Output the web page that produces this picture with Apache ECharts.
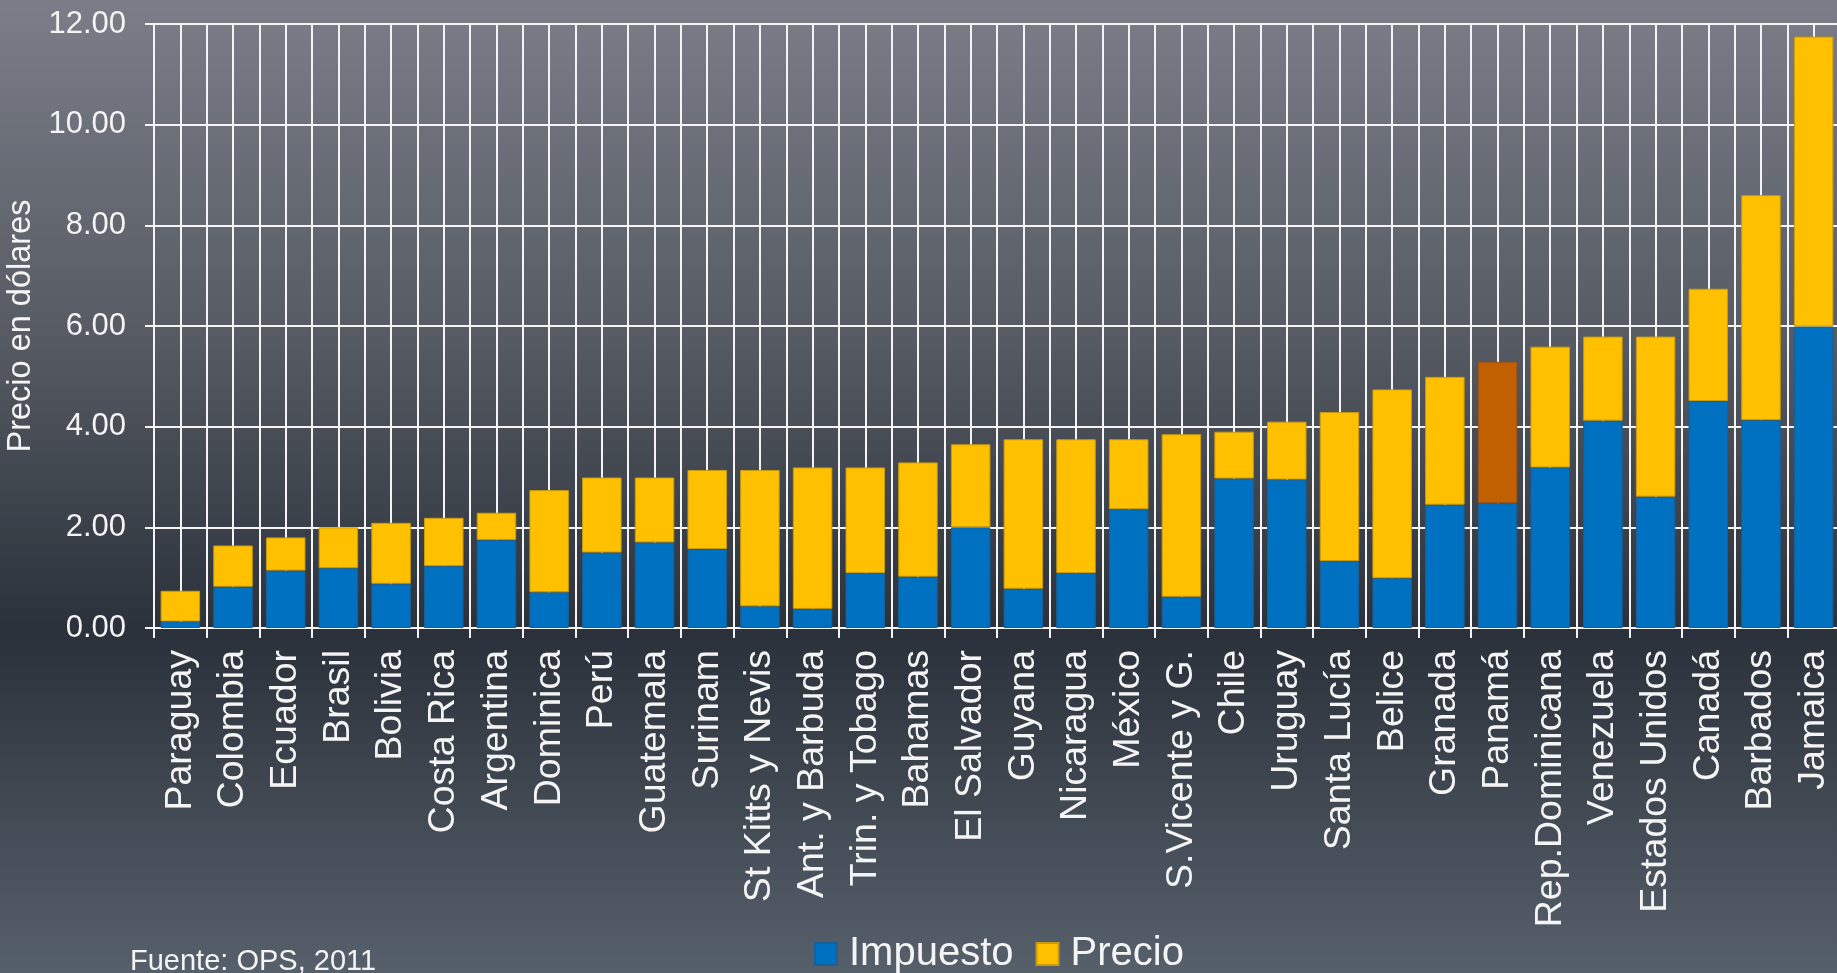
<!DOCTYPE html>
<html>
<head>
<meta charset="utf-8">
<script src="https://cdn.jsdelivr.net/npm/echarts@6/dist/echarts.min.js"></script>
<style>
  html, body { margin: 0; padding: 0; }
  #chart { width: 1837px; height: 973px; }
</style>
</head>
<body>
<div id="chart"></div>
<script>
// países (orden del gráfico)
const paises = ['Paraguay', 'Colombia', 'Ecuador', 'Brasil', 'Bolivia', 'Costa Rica', 'Argentina',
  'Dominica', 'Perú', 'Guatemala', 'Surinam', 'St Kitts y Nevis', 'Ant. y Barbuda', 'Trin. y Tobago',
  'Bahamas', 'El Salvador', 'Guyana', 'Nicaragua', 'México', 'S.Vicente y G.', 'Chile', 'Uruguay',
  'Santa Lucía', 'Belice', 'Granada', 'Panamá', 'Rep.Dominicana', 'Venezuela', 'Estados Unidos',
  'Canadá', 'Barbados', 'Jamaica']
// parte azul
const impuesto = [0.13, 0.82, 1.14, 1.19, 0.88, 1.23, 1.75, 0.71, 1.50, 1.70, 1.57, 0.43, 0.38, 1.09,
  1.02, 2.00, 0.78, 1.09, 2.36, 0.62, 2.97, 2.95, 1.33, 0.99, 2.45, 2.48, 3.19, 4.12, 2.61, 4.51, 4.13, 5.99]
// parte amarilla (encima del impuesto)
const precio = [0.61, 0.82, 0.66, 0.81, 1.21, 0.96, 0.54, 2.03, 1.49, 1.29, 1.57, 2.71, 2.81, 2.10,
  2.27, 1.65, 2.97, 2.66, 1.39, 3.23, 0.93, 1.15, 2.96, 3.75, 2.54, 2.81, 2.40, 1.67, 3.18, 2.23, 4.47, 5.76]
const yTicks = [0, 2, 4, 6, 8, 10, 12]
const destacado = 'Panamá'

const font = 'Liberation Sans, Arial, sans-serif'
const blanco = '#f4f4f4'

const myChart = echarts.init(document.getElementById('chart'))

// eje auxiliar: medias categorías para las líneas verticales
const mitades = []
paises.forEach(p => { mitades.push(p + '_a'); mitades.push(p + '_b') })

const option = {
  backgroundColor: new echarts.graphic.LinearGradient(0, 0, 0, 1, [
    { offset: 0, color: '#7b7e88' },
    { offset: 0.35, color: '#555a63' },
    { offset: 0.65, color: '#2b313a' },
    { offset: 1, color: '#56606b' }
  ]),
  textStyle: { fontFamily: font },
  title: {
    text: 'Fuente: OPS, 2011',
    left: 125,
    top: 942,
    textStyle: { color: blanco, fontSize: 29, fontWeight: 'normal', fontFamily: font }
  },
  legend: {
    left: 809,
    top: 929,
    itemWidth: 22,
    itemHeight: 22,
    itemGap: 22,
    icon: 'rect',
    data: ['Impuesto', 'Precio'],
    textStyle: { color: blanco, fontSize: 40, fontFamily: font, padding: [0, 0, 0, 7] }
  },
  grid: {
    left: 154,
    top: 24,
    right: -3,
    bottom: 345,
    containLabel: false,
    outerBoundsMode: 'none'
  },
  xAxis: [{
    type: 'category',
    data: paises,
    boundaryGap: true,
    axisLine: { show: true, lineStyle: { color: blanco, width: 2 } },
    axisTick: { show: true, length: 10, interval: 0, lineStyle: { color: blanco, width: 2 } },
    axisLabel: {
      interval: 0,
      rotate: 90,
      margin: 22,
      color: blanco,
      fontSize: 37.5,
      fontFamily: font
    },
    splitLine: { show: true, interval: 0, lineStyle: { color: blanco, width: 2 } }
  }, {
    type: 'category',
    data: mitades,
    boundaryGap: true,
    position: 'bottom',
    axisLine: { show: false },
    axisTick: { show: false },
    axisLabel: { show: false, interval: 0 },
    splitLine: { show: true, interval: 0, lineStyle: { color: blanco, width: 2 } }
  }],
  yAxis: {
    type: 'value',
    min: yTicks[0],
    max: yTicks[yTicks.length - 1],
    interval: yTicks[1] - yTicks[0],
    name: 'Precio en dólares',
    nameLocation: 'middle',
    nameRotate: 90,
    nameGap: 105,
    nameTextStyle: { color: blanco, fontSize: 32.5, fontFamily: font },
    axisLine: { show: true, lineStyle: { color: blanco, width: 2 } },
    axisTick: { show: true, length: 9, lineStyle: { color: blanco, width: 2 } },
    axisLabel: {
      margin: 28,
      color: blanco,
      fontSize: 31,
      fontFamily: font,
      formatter: v => v.toFixed(2)
    },
    splitLine: { show: true, lineStyle: { color: blanco, width: 2 } }
  },
  series: [{
    name: 'Impuesto',
    type: 'bar',
    stack: 'total',
    xAxisIndex: 0,
    barCategoryGap: '25%',
    itemStyle: { color: '#0070c0', borderColor: '#1a5f95', borderWidth: 1 },
    data: impuesto
  }, {
    name: 'Precio',
    type: 'bar',
    stack: 'total',
    xAxisIndex: 0,
    barCategoryGap: '25%',
    itemStyle: { color: '#ffc000', borderColor: '#c99a10', borderWidth: 1 },
    data: precio.map((v, i) => paises[i] === destacado
      ? { value: v, itemStyle: { color: '#c06000', borderColor: '#a05010' } }
      : v)
  }]
}

myChart.setOption(option)
window.onresize = function () {
  myChart.resize()
}
</script>
</body>
</html>
